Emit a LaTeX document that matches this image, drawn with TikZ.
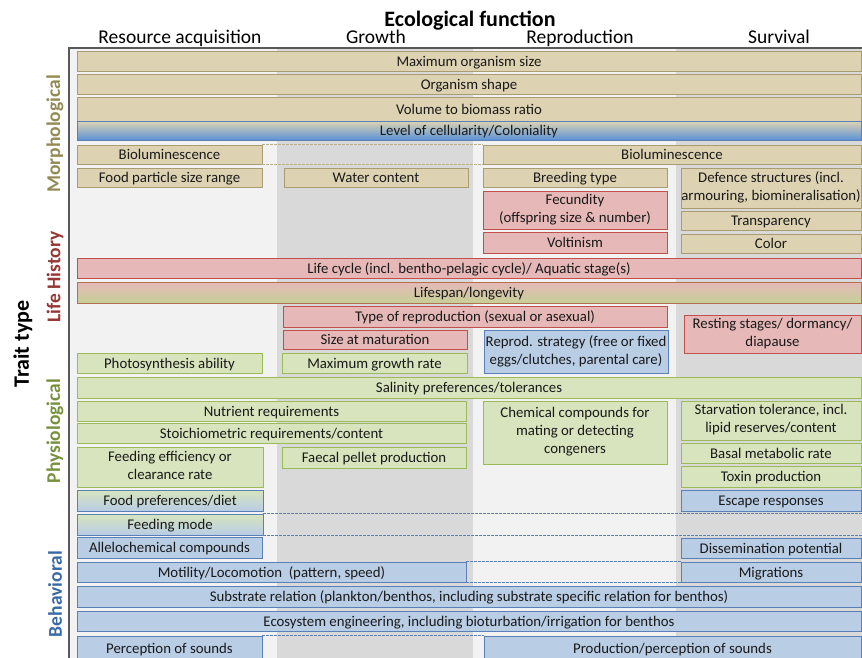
\documentclass[tikz,border=0pt]{standalone}
\usepackage{fontspec}
\setmainfont{Carlito}
\usetikzlibrary{calc}
\definecolor{tanF}{HTML}{DDD3B3}
\definecolor{tanD}{HTML}{A99C70}
\definecolor{pinkF}{HTML}{E6B9B8}
\definecolor{pinkD}{HTML}{C0504D}
\definecolor{greenF}{HTML}{D7E4BD}
\definecolor{greenD}{HTML}{9BBB59}
\definecolor{blueF}{HTML}{B9CDE5}
\definecolor{blueD}{HTML}{5B80B8}
\definecolor{cellBlue}{HTML}{5B92D6}
\definecolor{colLight}{HTML}{F2F2F2}
\definecolor{colDark}{HTML}{D9D9D9}
\definecolor{morC}{HTML}{948A54}
\definecolor{lifC}{HTML}{953735}
\definecolor{phyC}{HTML}{76923C}
\definecolor{behC}{HTML}{3A6AA4}
% box from (x1,y1) to (x2,y2): style, name, x1, y1, x2, y2, text
\newcommand{\trait}[7]{\node[#1, minimum width={(#5)-(#3)}, minimum height={(#6)-(#4)}] (#2) at ({((#3)+(#5))/2},{((#4)+(#6))/2}) {#7};}

\begin{document}
\begin{tikzpicture}[x=1pt,y=-1pt,
    trait/.style={draw, line width=0.9pt, inner sep=0pt, align=center, text=black!90, font=\fontsize{14.8}{18}\selectfont, execute at begin node={\rule[-3.5pt]{0pt}{17.5pt}}, execute at end node={\rule[-3.5pt]{0pt}{0pt}}},
    mor/.style={trait, fill=tanF, draw=tanD},
    lif/.style={trait, fill=pinkF, draw=pinkD},
    phy/.style={trait, fill=greenF, draw=greenD},
    beh/.style={trait, fill=blueF, draw=blueD},
    cell/.style={trait, draw=blueD, top color=tanF, bottom color=cellBlue},
    span/.style={trait, draw=pinkD!70!greenD, top color=pinkF, bottom color=greenF!80!olive},
    feed/.style={trait, draw=blueD, top color=greenF, bottom color=blueF},
    gap/.style={dash pattern=on 2.5pt off 1.5pt, line width=0.8pt},
    side/.style={rotate=90, font=\fontsize{19.5}{20}\selectfont\bfseries},
    head/.style={anchor=base, font=\fontsize{19.5}{20}\selectfont}]
\useasboundingbox (0,0) rectangle (862,657);
\clip (0,0) rectangle (862,657);
% columns and frame
\fill[colLight] (69,48) rectangle (277,660);
\fill[colDark] (277,48) rectangle (473,660);
\fill[colLight] (473,48) rectangle (676,660);
\fill[colDark] (676,48) rectangle (866,660);
\draw[line width=1.2pt, black!65] (69,660) -- (69,48) -- (866,48);
\coordinate (edgeR) at (866,0);
% headings
\node[anchor=base, font=\fontsize{22}{24}\selectfont\bfseries] (func) at (470,26) {Ecological function};
\node[head] (resacq) at (180,43) {Resource acquisition};
\node[head] (growth) at (376,43) {Growth};
\node[head] (reprod) at (580,43) {Reproduction};
\node[head] (surviv) at (779,43) {Survival};
\node[side, font=\fontsize{22}{24}\selectfont\bfseries] (traittype) at (23,344) {Trait type};
\node[side, text=morC] (morph) at (55,134) {Morphological};
\node[side, text=lifC] (lifehist) at (55,277) {Life History};
\node[side, text=phyC] (physio) at (55,431) {Physiological};
\node[side, text=behC] (behav) at (55,594) {Behavioral};
% morphological
\trait{mor}{maxsize}{77}{51}{861}{71}{Maximum organism size}
\trait{mor}{shape}{77}{74}{861}{94}{Organism shape}
\trait{mor}{volume}{77}{97}{861}{121}{Volume to biomass ratio}
\trait{cell}{cellular}{77}{121}{861}{140}{Level of cellularity/Coloniality}
\trait{mor}{biolumA}{77}{145}{262}{164}{Bioluminescence}
\trait{mor}{biolumB}{483}{145}{861}{164}{Bioluminescence}
\draw[gap, tanD!80] (biolumA.north east) -- (biolumB.north west) (biolumA.south east) -- (biolumB.south west);
\trait{mor}{foodsize}{77}{168}{262}{187}{Food particle size range}
\trait{mor}{water}{284}{168}{468}{187}{Water content}
\trait{mor}{breeding}{483}{168}{667}{187}{Breeding type}
\trait{mor}{defence}{681}{168}{861}{208}{Defence structures (incl.\\armouring, biomineralisation)}
\trait{mor}{transp}{681}{211}{861}{230}{Transparency}
\trait{mor}{colour}{681}{234}{861}{253}{Color}
% life history
\trait{lif}{fecund}{483}{191}{667}{229}{Fecundity\\(offspring size \& number)}
\trait{lif}{voltin}{483}{232}{667}{253}{Voltinism}
\trait{lif}{lifecycle}{77}{258}{861}{278}{Life cycle (incl. bentho-pelagic cycle)/ Aquatic stage(s)}
\trait{span}{lifespan}{77}{282}{861}{303}{Lifespan/longevity}
\trait{lif}{reptype}{283}{306}{667}{327}{Type of reproduction (sexual or asexual)}
\trait{lif}{resting}{684}{315}{861}{353}{Resting stages/ dormancy/\\diapause}
\trait{lif}{matur}{283}{330}{467}{349}{Size at maturation}
\trait{beh}{strategy}{484}{330}{668}{373}{Reprod. strategy (free or fixed\\eggs/clutches, parental care)}
% physiological
\trait{phy}{photo}{77}{353}{262}{373}{Photosynthesis ability}
\trait{phy}{maxgrowth}{282}{353}{467}{373}{Maximum growth rate}
\trait{phy}{salinity}{77}{377}{861}{398}{Salinity preferences/tolerances}
\trait{phy}{nutrient}{77}{401}{466}{421}{Nutrient requirements}
\trait{phy}{chemical}{483}{401}{667}{464}{Chemical compounds for\\mating or detecting\\congeners}
\trait{phy}{starv}{681}{401}{861}{440}{Starvation tolerance, incl.\\lipid reserves/content}
\trait{phy}{stoich}{77}{423}{466}{443}{Stoichiometric requirements/content}
\trait{phy}{basal}{681}{443}{861}{463}{Basal metabolic rate}
\trait{phy}{feedeff}{77}{447}{263}{487}{Feeding efficiency or\\clearance rate}
\trait{phy}{faecal}{282}{447}{466}{468}{Faecal pellet production}
\trait{phy}{toxin}{681}{466}{861}{487}{Toxin production}
% behavioral
\trait{feed}{foodpref}{77}{490}{263}{511}{Food preferences/diet}
\trait{beh}{escape}{681}{490}{861}{511}{Escape responses}
\trait{feed}{feedmode}{77}{514}{263}{535}{Feeding mode}
\draw[gap, blueD] (feedmode.north east) -- (feedmode.north east -| edgeR) (feedmode.south east) -- (feedmode.south east -| edgeR);
\trait{beh}{allelo}{77}{537}{262}{558}{Allelochemical compounds}
\trait{beh}{dissem}{681}{538}{861}{558}{Dissemination potential}
\trait{beh}{motility}{77}{562}{466}{582}{Motility/Locomotion\ \ (pattern, speed)}
\trait{beh}{migr}{681}{562}{861}{582}{Migrations}
\draw[gap, blueD] (motility.north east) -- (migr.north west) (motility.south east) -- (migr.south west);
\trait{beh}{substrate}{77}{586}{861}{607}{Substrate relation (plankton/benthos, including substrate specific relation for benthos)}
\trait{beh}{engineer}{77}{611}{861}{631}{Ecosystem engineering, including bioturbation/irrigation for benthos}
\trait{beh}{percep}{77}{636}{262}{660}{Perception of sounds}
\trait{beh}{prodsound}{484}{636}{861}{660}{Production/perception of sounds}
\draw[gap, blueD] (percep.north east) -- (prodsound.north west) (percep.south east) -- (prodsound.south west);
\end{tikzpicture}
\end{document}
